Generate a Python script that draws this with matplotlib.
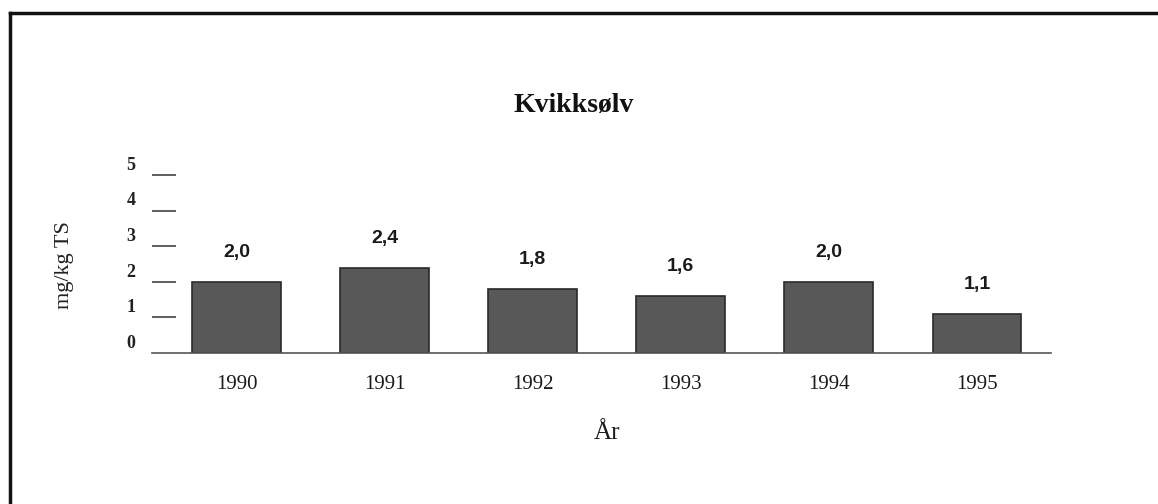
import matplotlib
matplotlib.use("Agg")
import matplotlib.pyplot as plt
from matplotlib.lines import Line2D

# Data
years = ["1990", "1991", "1992", "1993", "1994", "1995"]
values = [2.0, 2.4, 1.8, 1.6, 2.0, 1.1]
value_labels = ["2,0", "2,4", "1,8", "1,6", "2,0", "1,1"]
y_ticks = [0, 1, 2, 3, 4, 5]

serif = "Liberation Serif"
sans = "Liberation Sans"

fig = plt.figure(figsize=(11.58, 5.04), dpi=100)
ax = fig.add_axes([0.1313, 0.2996, 0.7763, 0.3532])

x = list(range(len(years)))
ax.bar(x, values, width=0.6, color="#585858", edgecolor="#2a2a2a", linewidth=1.2, zorder=2)

# value labels above bars
for xi, v, lab in zip(x, values, value_labels):
    ax.annotate(lab, (xi, v), xytext=(0, 21), textcoords="offset points",
                ha="center", va="center", fontsize=14, family=sans, fontweight="bold",
                color="#1a1a1a")

ax.set_xlim(-0.57, 5.5)
ax.set_ylim(0, 5)

# spines: only baseline
for s in ["top", "right", "left"]:
    ax.spines[s].set_visible(False)
ax.spines["bottom"].set_color("#555555")
ax.spines["bottom"].set_linewidth(1.2)

# y ticks as short dashes, labels sit a bit above them
ax.set_yticks(y_ticks[1:])
ax.set_yticklabels([])
ax.tick_params(axis="y", direction="in", length=17, width=1.1, color="#333333", pad=0)
for t in y_ticks:
    ax.annotate(str(t), (0, t), xycoords=("axes fraction", "data"),
                xytext=(-12, 7), textcoords="offset points",
                ha="right", va="center", fontsize=13, family=serif, fontweight="bold",
                color="#222222")

ax.set_xticks(x)
ax.set_xticklabels([])
ax.tick_params(axis="x", length=0)
for xi, yr in zip(x, years):
    ax.annotate(yr, (xi, 0), xycoords=("data", "axes fraction"),
                xytext=(0, -23), textcoords="offset points",
                ha="center", va="center", fontsize=15, family=serif, color="#1a1a1a")

fig.text(0.495, 0.79, "Kvikksølv", ha="center", va="center",
         fontsize=20, fontweight="bold", family=serif, color="#111111")
fig.text(0.056, 0.474, "mg/kg TS", ha="center", va="center", rotation=90,
         fontsize=16, family=serif, color="#222222")
fig.text(0.524, 0.141, "År", ha="center", va="center",
         fontsize=18, family=serif, color="#1a1a1a")

# outer frame (left and top edges visible in the scan)
fig.add_artist(Line2D([0.0087, 0.0087], [0.0, 0.974], transform=fig.transFigure,
                      color="#111111", linewidth=2.5))
fig.add_artist(Line2D([0.0087, 1.0], [0.974, 0.974], transform=fig.transFigure,
                      color="#111111", linewidth=2.5))

fig.savefig("out.png", dpi=100)
